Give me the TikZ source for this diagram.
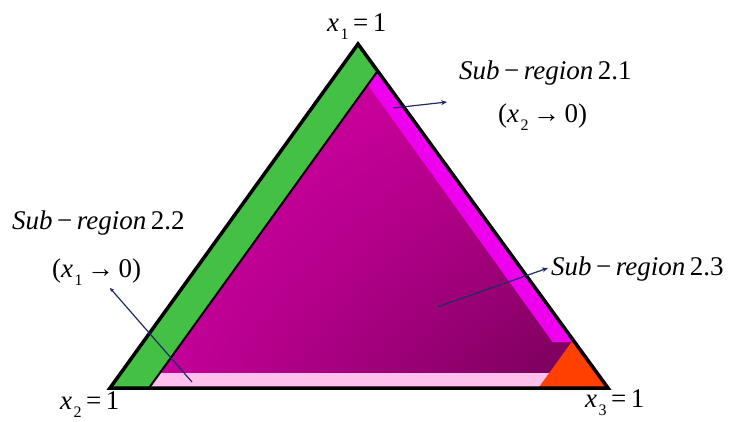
\documentclass[tikz,border=0pt]{standalone}
\usepackage{fontspec}
\setmainfont{Liberation Serif}
\usetikzlibrary{arrows.meta,shadings}
\definecolor{gband}{HTML}{44C044}
\definecolor{mband}{HTML}{EE00EE}
\definecolor{pband}{HTML}{FFC0EE}
\definecolor{oband}{HTML}{FF4000}
\definecolor{ilight}{HTML}{D800A8}
\definecolor{idark}{HTML}{6E0052}
\definecolor{arr}{HTML}{1F2A6A}
\newcommand{\vx}[1]{\textit{x}\kern1.5pt\raisebox{-0.3em}{\fontsize{16}{16}\selectfont #1}}
\begin{document}
\begin{tikzpicture}[x=1pt,y=-1pt,
  lbl/.style={inner sep=0pt,anchor=base west,font=\fontsize{27}{30}\selectfont},
  pointer/.style={draw=arr,line width=1.2pt,-{Stealth[length=6pt,width=5pt]}}]
\useasboundingbox (0,0) rectangle (729,421);
% geometry
\coordinate (A) at (358,44);
\coordinate (BL) at (110,388);
\coordinate (BR) at (608,388);
\coordinate (G1) at (377.7,70.9);
\coordinate (G2) at (149,388);
\coordinate (G3) at (159.8,373);
\coordinate (M1) at (367.8,84.8);
\coordinate (M2) at (552.6,342);
\coordinate (M3) at (574.6,342);
\coordinate (O1) at (573,340);
\coordinate (O2) at (538.5,388);
\coordinate (O3) at (549.3,373);
% interior gradient
\begin{scope}
\clip (A) -- (BL) -- (BR) -- cycle;
\shade[upper left=ilight, upper right=ilight!80!idark, lower left=ilight!85!idark, lower right=idark]
  (140,60) rectangle (610,388);
\end{scope}
% bright magenta band
\fill[mband] (G1) -- (M3) -- (M2) -- (M1) -- cycle;
% pink band
\fill[pband] (G3) -- (O3) -- (O2) -- (G2) -- cycle;
% orange corner
\fill[oband] (O1) -- (BR) -- (O2) -- cycle;
% green band
\fill[gband] (A) -- (BL) -- (G2) -- (G1) -- cycle;
\draw[line width=2pt] (G1) -- (G2);
% outline
\draw[line width=3.5pt,line join=miter] (A) -- (BL) -- (BR) -- cycle;
% labels
\node[lbl] (t1) at (327,31) {\vx{1}\,=\,1};
\node[lbl] (s21) at (459,79) {\textit{Sub}\,−\,\textit{region}\,2.1};
\node[lbl] (c21) at (498,122) {(\vx{2}\,→\,0)};
\node[lbl] (s22) at (12,229) {\textit{Sub}\,−\,\textit{region}\,2.2};
\node[lbl] (c22) at (52,277) {(\vx{1}\,→\,0)};
\node[lbl] (s23) at (551,275) {\textit{Sub}\,−\,\textit{region}\,2.3};
\node[lbl] (t2) at (60,409) {\vx{2}\,=\,1};
\node[lbl] (t3) at (585,407) {\vx{3}\,=\,1};
% pointers
\coordinate (p1s) at (393,108);
\coordinate (p1e) at (447,102);
\coordinate (p2s) at (192,382);
\coordinate (p2e) at (110,288);
\coordinate (p3s) at (437,307);
\coordinate (p3e) at (548,268);
\draw[pointer] (p1s) -- (p1e);
\draw[pointer,-{Stealth[length=4pt,width=4pt]}] (p2s) -- (p2e);
\draw[pointer] (p3s) -- (p3e);
\end{tikzpicture}
\end{document}
